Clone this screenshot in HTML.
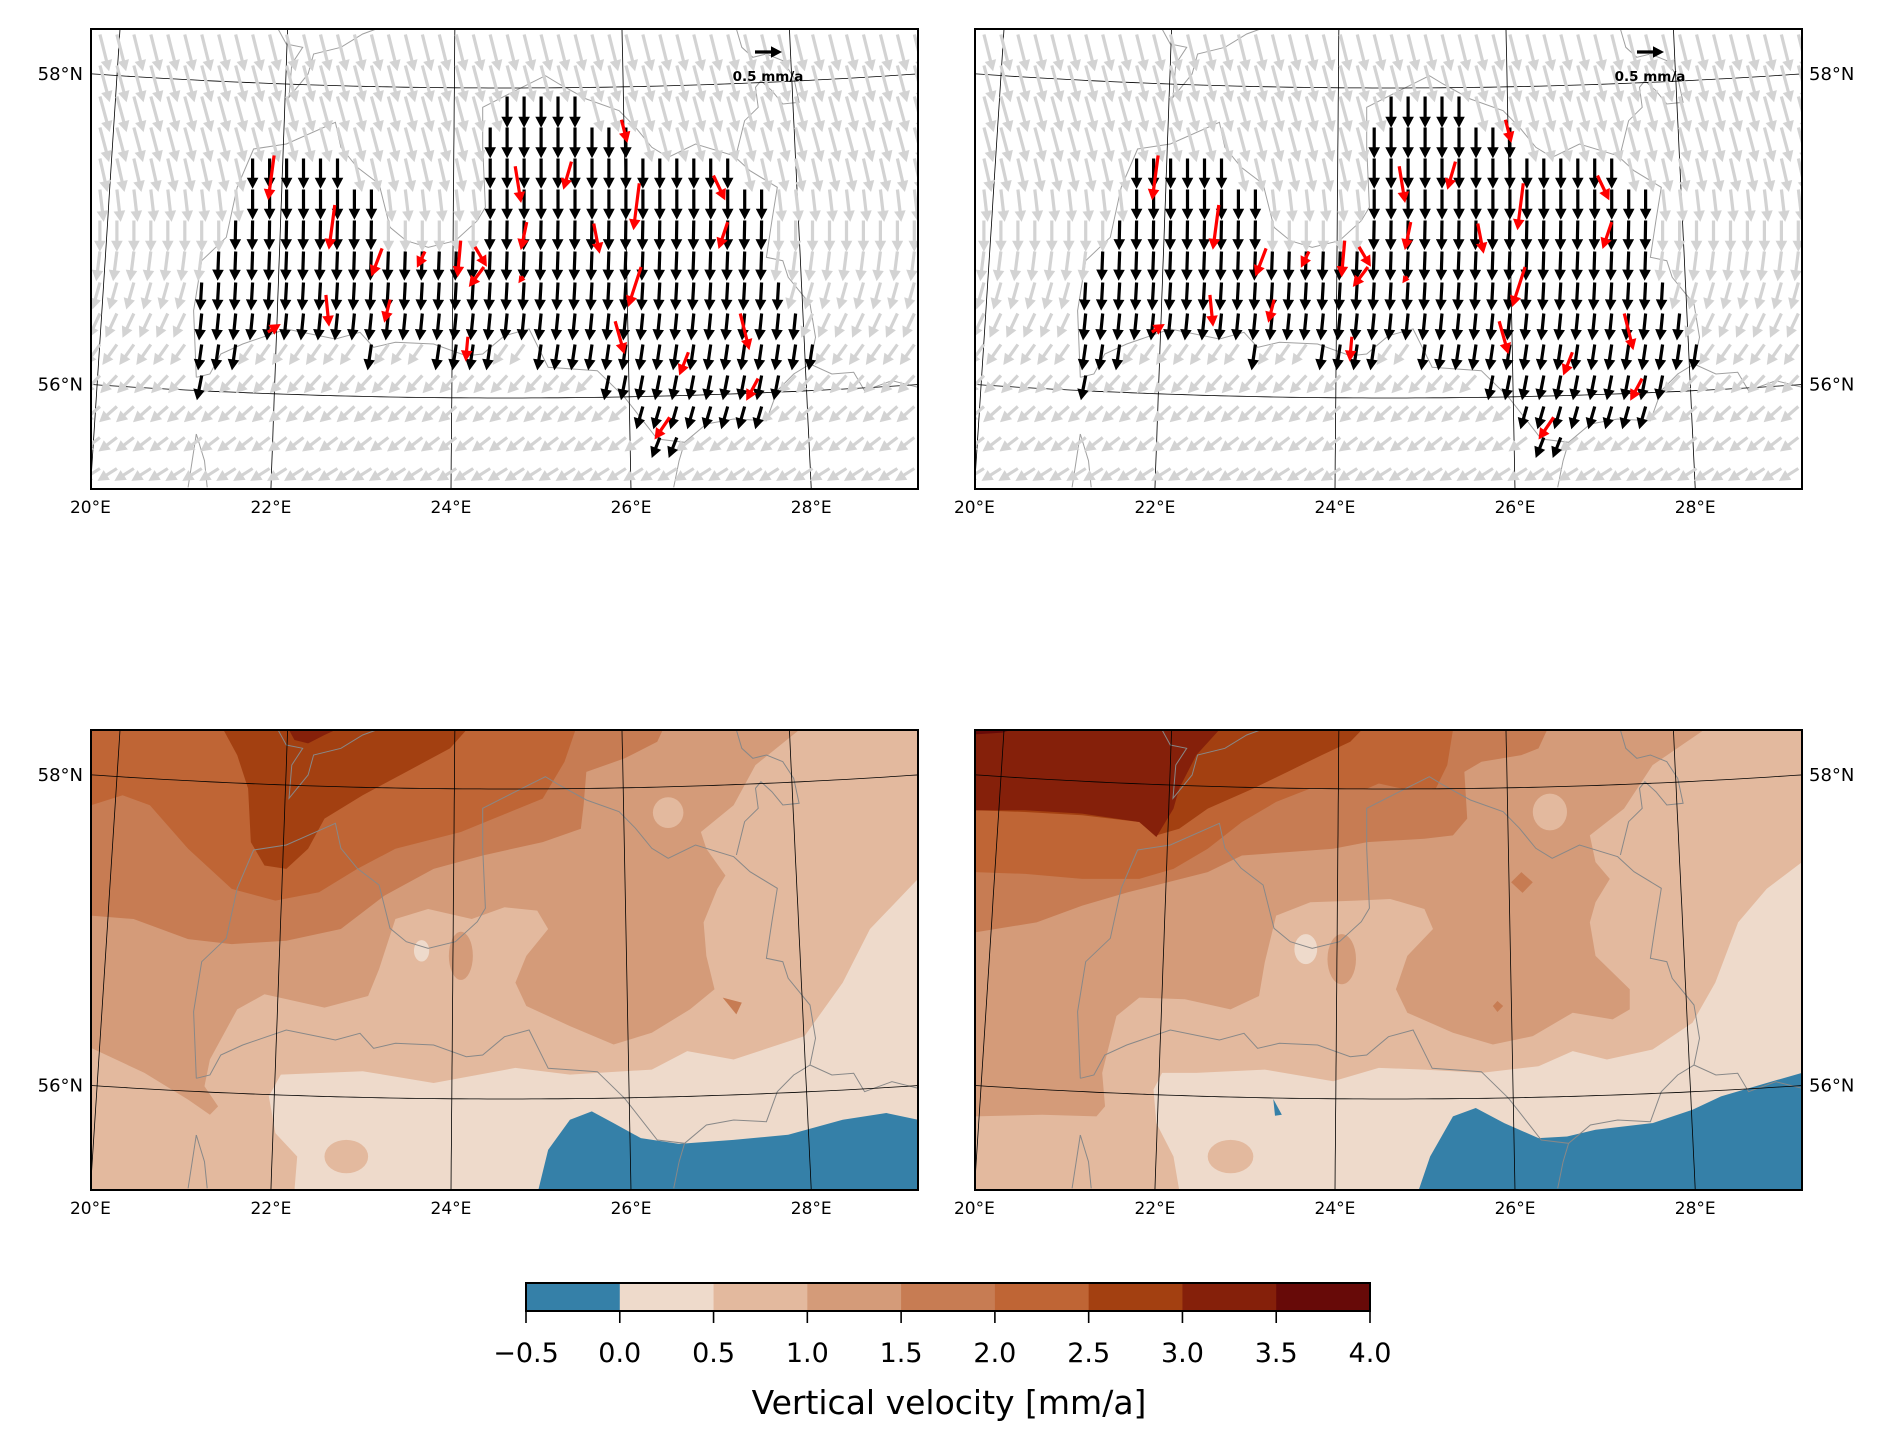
<!DOCTYPE html>
<html><head><meta charset="utf-8">
<style>
html,body{margin:0;padding:0;background:#fff;}
svg text{font-family:"DejaVu Sans","Liberation Sans",sans-serif;}
</style></head>
<body>
<svg id="fig" width="1890" height="1446" viewBox="0 0 1890 1446" xmlns="http://www.w3.org/2000/svg">
<rect width="1890" height="1446" fill="#fff"/>
<defs>
<clipPath id="pclip"><rect x="0" y="0" width="827" height="460"/></clipPath>
</defs>

<g id="bl" transform="translate(91,730)">
<svg x="0" y="0" width="827" height="460" viewBox="22 25 1516 1375" preserveAspectRatio="none">
<rect x="0" y="0" width="1600" height="1500" fill="#eedacb"/>
<path fill="#e3b99e" d="M22,25 L1538,25 L1538,470 L1450,620 L1400,780 L1330,940 L1200,1010 L1115,985 L1050,1040 L900,1055 L800,1035 L650,1080 L520,1045 L370,1055 L348,1120 L360,1230 L400,1300 L395,1400 L22,1400 Z"/>
<ellipse cx="490" cy="1300" rx="40" ry="50" fill="#e3b99e"/>
<path fill="#3580a8" d="M842,1400 L860,1280 L900,1190 L940,1165 L980,1200 L1030,1245 L1100,1262 L1200,1250 L1300,1235 L1400,1190 L1480,1170 L1538,1190 L1538,1400 Z"/>
<path fill="#d49b79" d="M22,25 L1320,25 L1240,130 L1200,250 L1140,330 L1150,380 L1185,460 L1170,500 L1145,600 L1150,700 L1165,800 L1120,860 L1050,930 L980,965 L900,910 L820,850 L800,780 L820,700 L860,620 L840,565 L780,555 L720,590 L640,560 L580,590 L550,740 L530,820 L450,855 L340,815 L290,860 L240,1010 L230,1090 L255,1150 L240,1175 L200,1130 L120,1050 L22,975 Z"/>
<ellipse cx="1080" cy="272" rx="28" ry="46" fill="#e3b99e"/>
<ellipse cx="700" cy="700" rx="22" ry="72" fill="#d49b79"/>
<ellipse cx="628" cy="685" rx="14" ry="32" fill="#eedacb"/>
<path fill="#c77c53" d="M1180,825 L1215,840 L1205,875 Z"/>
<path fill="#c77c53" d="M22,580 L100,590 L200,650 L280,665 L380,655 L480,620 L560,520 L650,440 L740,400 L850,360 L920,320 L925,250 L930,150 L1000,110 L1060,60 L1070,25 L22,25 Z"/>
<path fill="#bf6535" d="M22,250 L80,220 L130,250 L200,380 L280,500 L360,535 L440,510 L510,440 L580,380 L700,330 L760,290 L850,230 L890,120 L910,25 L22,25 Z"/>
<path fill="#a34011" d="M265,25 L290,100 L310,200 L315,360 L340,430 L380,440 L420,380 L450,290 L520,220 L600,150 L680,80 L710,25 Z"/>
<path fill="#85200a" d="M385,25 L395,55 L420,65 L450,40 L470,25 Z"/>
</svg>
</g>

<g id="br" transform="translate(975,730)">
<svg x="0" y="0" width="827" height="460" viewBox="12 25 1450 1375" preserveAspectRatio="none">
<rect x="0" y="0" width="1600" height="1500" fill="#eedacb"/>
<path fill="#e3b99e" d="M12,25 L1462,25 L1462,420 L1400,500 L1350,600 L1310,780 L1270,900 L1200,980 L1120,1010 L1060,985 L1000,1030 L900,1050 L800,1040 L720,1035 L640,1075 L520,1040 L400,1050 L340,1050 L325,1100 L330,1200 L360,1300 L370,1400 L12,1400 Z"/>
<ellipse cx="460" cy="1300" rx="40" ry="50" fill="#e3b99e"/>
<path fill="#3580a8" d="M790,1400 L810,1300 L850,1180 L890,1155 L940,1200 L1000,1245 L1050,1240 L1100,1220 L1200,1200 L1270,1160 L1320,1120 L1400,1080 L1462,1050 L1462,1400 Z"/>
<path fill="#3580a8" d="M535,1128 L550,1175 L538,1178 Z"/>
<path fill="#d49b79" d="M12,25 L1290,25 L1200,130 L1150,260 L1090,340 L1100,420 L1125,470 L1100,540 L1090,600 L1100,700 L1160,800 L1160,860 L1130,890 L1060,870 L990,940 L920,965 L850,930 L770,870 L750,800 L770,700 L815,620 L800,560 L740,530 L680,535 L600,540 L540,580 L520,720 L510,820 L460,860 L380,830 L300,825 L260,880 L235,1050 L240,1150 L225,1180 L130,1175 L12,1180 Z"/>
<ellipse cx="1020" cy="270" rx="30" ry="55" fill="#e3b99e"/>
<ellipse cx="655" cy="710" rx="25" ry="75" fill="#d49b79"/>
<ellipse cx="592" cy="680" rx="20" ry="45" fill="#eedacb"/>
<path fill="#c77c53" d="M970,450 L990,480 L972,512 L952,480 Z"/>
<path fill="#c77c53" d="M928,835 L938,850 L928,868 L920,850 Z"/>
<path fill="#c77c53" d="M12,630 L120,600 L200,550 L280,510 L350,480 L420,450 L480,400 L560,390 L640,380 L700,360 L800,350 L850,340 L875,290 L870,150 L900,120 L970,100 L1000,80 L1015,25 L12,25 Z"/>
<path fill="#bf6535" d="M12,450 L100,455 L200,470 L300,470 L360,440 L420,380 L480,300 L540,240 L600,200 L700,200 L720,185 L760,200 L820,200 L840,130 L850,25 L12,25 Z"/>
<path fill="#a34011" d="M12,265 L100,270 L200,280 L300,300 L330,340 L370,320 L420,260 L500,200 L560,150 L620,100 L670,60 L690,25 L12,25 Z"/>
<path fill="#85200a" d="M12,25 L440,25 L400,100 L370,200 L360,260 L330,345 L300,300 L200,275 L100,265 L12,265 Z"/>
<path fill="#670a08" d="M12,25 L75,25 L60,33 L12,38 Z"/>
</svg>
</g>

<g id="layers"></g>

<g id="colorbar"></g>
</svg>

<script>
// ---- data ----
const cbLevels = [-0.5, 0.0, 0.5, 1.0, 1.5, 2.0, 2.5, 3.0, 3.5, 4.0];
const cbColors = ["#3580a8","#eedacb","#e3b99e","#d49b79","#c77c53","#bf6535","#a34011","#85200a","#670a08"];
const cbTickLabels = ["\u22120.5","0.0","0.5","1.0","1.5","2.0","2.5","3.0","3.5","4.0"];
const lonTicks = [20, 22, 24, 26, 28];
const lonTickLabels = ["20°E","22°E","24°E","26°E","28°E"];
const latTicks = [56, 58];
const latTickLabels = ["56°N","58°N"];

const gridLats = [58.30,58.10,57.90,57.70,57.50,57.30,57.10,56.90,56.70,56.50,56.30,56.10,55.90,55.70,55.50];
const grayVe = [0.17,0.18,0.18,0.17,0.14,0.07,0.00,-0.07,-0.14,-0.21,-0.27,-0.31,-0.33,-0.34,-0.36];
const grayVn = [-0.68,-0.68,-0.66,-0.64,-0.62,-0.60,-0.58,-0.55,-0.50,-0.45,-0.38,-0.33,-0.29,-0.26,-0.23];
const blackVe = [0.00,0.00,0.00,0.00,0.00,0.00,-0.01,-0.02,-0.03,-0.05,-0.07,-0.09,-0.12,-0.15,-0.18];
const blackVn = [-0.58,-0.58,-0.58,-0.57,-0.56,-0.56,-0.55,-0.54,-0.52,-0.50,-0.48,-0.46,-0.42,-0.38,-0.34];
const redLon = [22.05,22.73,23.26,23.74,24.14,24.30,24.40,24.84,24.75,25.38,25.94,24.88,25.63,26.14,26.97,27.13,26.16,22.63,23.35,21.98,24.22,25.87,27.27,26.69,27.47,26.48];
const redLat = [57.52,57.20,56.92,56.90,56.97,56.93,56.80,56.74,57.45,57.48,57.75,57.09,57.08,57.34,57.39,57.09,56.80,56.62,56.59,56.38,56.35,56.45,56.50,56.25,56.08,55.83];
const redVe = [-0.11,-0.11,-0.20,-0.15,-0.06,0.22,-0.28,-0.09,0.11,-0.15,0.11,-0.11,0.11,-0.11,0.22,-0.17,-0.24,0.06,-0.11,0.24,-0.04,0.17,0.17,-0.17,-0.22,-0.28];
const redVn = [-0.83,-0.83,-0.52,-0.30,-0.68,-0.37,-0.37,-0.13,-0.68,-0.52,-0.43,-0.52,-0.56,-0.87,-0.46,-0.50,-0.74,-0.59,-0.43,0.15,-0.46,-0.61,-0.68,-0.43,-0.41,-0.41];
const keyValue = 0.5;

const NS = "http://www.w3.org/2000/svg";
const PW = 827, PH = 460;
const PX_PER_MM = 54;
function mk(tag, attrs, parent){ const e=document.createElementNS(NS,tag); for(const k in attrs) e.setAttribute(k,attrs[k]); if(parent) parent.appendChild(e); return e; }
function proj(lon, lat){
  const n=0.8, R0=6200, k=155, cx=414, cy57=214;
  const r = R0 + k*(57-lat);
  const th = n*(lon-24.6)*Math.PI/180;
  return [cx + r*Math.sin(th), (cy57-R0) + r*Math.cos(th)];
}
function qx(lon){ return (lon-20)*89.3; }
function qy(lat){ return 52 + (58-lat)*155; }

const borderZ = [[215,1070],[210,870],[225,720],[270,650],[290,500],[320,385],[380,370],[470,305],[480,380],[510,440],[550,490],[570,620],[600,660],[640,680],[690,660],[730,600],[745,560],[740,380],[740,260],[800,210],[855,165],[880,190],[930,235],[990,270],[1020,320],[1050,380],[1080,410],[1130,370],[1200,405],[1230,450],[1280,500],[1270,600],[1260,710],[1290,720],[1300,770],[1340,850],[1350,950],[1340,1030],[1310,1060],[1280,1110],[1260,1200],[1200,1195],[1150,1210],[1110,1265],[1060,1255],[1000,1130],[950,1050],[860,1040],[825,925],[780,945],[740,1000],[710,1005],[650,970],[580,965],[540,980],[515,935],[470,955],[380,925],[300,970],[260,1000],[240,1060],[215,1070]];
const extraBordersZ = [
 [[365,25],[380,70],[410,80],[390,130],[385,230],[420,160],[430,100],[480,80],[520,40],[545,25]],
 [[1205,25],[1215,80],[1235,110],[1260,100],[1290,120],[1310,170],[1320,245],[1290,250],[1270,210],[1250,180],[1240,200],[1245,260],[1220,300],[1205,400]],
 [[1110,1265],[1100,1320],[1090,1400]],
 [[215,1240],[230,1320],[235,1400]],[[200,1400],[215,1240]],
 [[1340,1030],[1380,1060],[1420,1055],[1440,1110],[1490,1080],[1538,1100]]
];
function z2p(p){ return [(p[0]-22)/1.833, (p[1]-25)/3]; }
const borderP = borderZ.map(z2p);
function inside(x,y,poly){
  let c=false;
  for(let i=0,j=poly.length-1;i<poly.length;j=i++){
    const xi=poly[i][0],yi=poly[i][1],xj=poly[j][0],yj=poly[j][1];
    if(((yi>y)!==(yj>y)) && (x < (xj-xi)*(y-yi)/(yj-yi)+xi)) c=!c;
  }
  return c;
}
function arrow(parent, x, y, dx, dy, color, name){
  const L = Math.hypot(dx,dy); if(L<0.5) return;
  const ux=dx/L, uy=dy/L, vx=-uy, vy=ux;
  let hl=11, hw=5.8, sw=1.6;
  if(L<hl*1.2){ const s=L/(hl*1.2); hl*=s; hw*=Math.max(s,0.6); }
  const bx=x+ux*(L-hl), by=y+uy*(L-hl);
  const pts=[[x+vx*sw,y+vy*sw],[bx+vx*sw,by+vy*sw],[bx+vx*hw,by+vy*hw],[x+dx,y+dy],[bx-vx*hw,by-vy*hw],[bx-vx*sw,by-vy*sw],[x-vx*sw,y-vy*sw]];
  const p = mk("polygon",{points:pts.map(q=>q[0].toFixed(1)+","+q[1].toFixed(1)).join(" "),fill:color},parent);
  
  
}
function poly2d(pts){ return pts.map(q=>q[0].toFixed(1)+","+q[1].toFixed(1)).join(" "); }

const layers = document.getElementById("layers");

function drawGraticule(g){
  for(const lon of lonTicks){
    const pts=[]; for(let lat=55.0; lat<=58.8; lat+=0.1) pts.push(proj(lon,lat));
    const l=mk("polyline",{points:poly2d(pts),fill:"none",stroke:"#000","stroke-width":0.8},g);
    
    
  }
  for(const lat of latTicks){
    const pts=[]; for(let lon=19.0; lon<=30.5; lon+=0.1) pts.push(proj(lon,lat));
    const l=mk("polyline",{points:poly2d(pts),fill:"none",stroke:"#000","stroke-width":0.8},g);
    
    
  }
}
function drawBorders(g, color){
  const all=[borderZ].concat(extraBordersZ);
  for(const b of all){
    const l=mk("polyline",{points:poly2d(b.map(z2p)),fill:"none",stroke:color,"stroke-width":1},g);
    
    
  }
}
function lonAtBottom(lon){
  let lo=54, hi=59;
  for(let i=0;i<40;i++){ const m=(lo+hi)/2; if(proj(lon,m)[1]>PH) lo=m; else hi=m; }
  return proj(lon,lo)[0];
}
function latAtEdge(lat, xEdge){
  let lo=18, hi=31;
  for(let i=0;i<40;i++){ const m=(lo+hi)/2; if(proj(m,lat)[0]<xEdge) lo=m; else hi=m; }
  return proj(lo,lat)[1];
}
function drawLabels(ox, oy, side){
  const g = mk("g",{},layers);
  
  
  lonTicks.forEach((lon,i)=>{
    const x=lonAtBottom(lon);
    const t=mk("text",{x:ox+x,y:oy+PH+24,"font-size":17,"text-anchor":"middle",fill:"#000"},g);
    t.textContent=lonTickLabels[i];
    
    
  });
  latTicks.forEach((lat,i)=>{
    const y = side==="left" ? latAtEdge(lat,0) : latAtEdge(lat,PW);
    const t=mk("text",{x: side==="left"? ox-8 : ox+PW+7, y:oy+y+6,"font-size":18,"text-anchor": side==="left"?"end":"start",fill:"#000"},g);
    t.textContent=latTickLabels[i];
    
    
  });
}
function frame(ox, oy, name){
  const r=mk("rect",{x:ox,y:oy,width:PW,height:PH,fill:"none",stroke:"#000","stroke-width":2},layers);
  
  
}

function quiverPanel(ox, oy, name){
  const g = mk("g",{transform:`translate(${ox},${oy})`,"clip-path":"url(#pclip)"},layers);
  
  
  mk("rect",{x:0,y:0,width:PW,height:PH,fill:"#fff"},g);
  drawBorders(g,"#a0a0a0");
  drawGraticule(g);
  const gg=mk("g",{},g);
  
  
  const gb=mk("g",{},g);
  
  
  gridLats.forEach((lat,ri)=>{
    for(let lon=20.1; lon<=29.35; lon+=0.19){
      const x=qx(lon), y=qy(lat);
      if(inside(x,y,borderP)){
        arrow(gb,x,y,blackVe[ri]*PX_PER_MM,-blackVn[ri]*PX_PER_MM,"#000","black-vector");
      } else {
        arrow(gg,x,y,grayVe[ri]*PX_PER_MM,-grayVn[ri]*PX_PER_MM,"#d3d3d3","gray-vector");
      }
    }
  });
  const gr=mk("g",{},g);
  
  
  redLon.forEach((lon,i)=>{
    arrow(gr,qx(lon),qy(redLat[i]),redVe[i]*PX_PER_MM,-redVn[i]*PX_PER_MM,"#ff0000","gnss-vector");
  });
  const kg=mk("g",{},g);
  
  
  const kx = ox<500 ? 664 : 662;
  arrow(kg,kx,23,keyValue*PX_PER_MM,0,"#000","quiver-key-arrow");
  const kt=mk("text",{x:kx+13,y:52,"font-size":13.5,"font-weight":"bold","text-anchor":"middle",fill:"#000"},kg);
  kt.textContent="0.5 mm/a";
  
  
}

function contourOverlay(ox, oy, name){
  const g = mk("g",{transform:`translate(${ox},${oy})`,"clip-path":"url(#pclip)"},layers);
  
  
  drawBorders(g,"#888");
  drawGraticule(g);
}

quiverPanel(91,29,"vector-map-left");
frame(91,29,"axes-frame-top-left");
drawLabels(91,29,"left");
quiverPanel(975,29,"vector-map-right");
frame(975,29,"axes-frame-top-right");
drawLabels(975,29,"right");
contourOverlay(91,730,"contour-overlay-left");
frame(91,730,"axes-frame-bottom-left");
drawLabels(91,730,"left");
contourOverlay(975,730,"contour-overlay-right");
frame(975,730,"axes-frame-bottom-right");
drawLabels(975,730,"right");

const cb=document.getElementById("colorbar");
const cbX0=526, cbX1=1370, cbY=1283, cbH=28;
function cbx(v){ return cbX0 + (v-cbLevels[0])/(cbLevels[cbLevels.length-1]-cbLevels[0])*(cbX1-cbX0); }
cbColors.forEach((c,i)=>{
  const r=mk("rect",{x:cbx(cbLevels[i]),y:cbY,width:cbx(cbLevels[i+1])-cbx(cbLevels[i])+0.5,height:cbH,fill:c},cb);
  
  
});
const cbf=mk("rect",{x:cbX0,y:cbY,width:cbX1-cbX0,height:cbH,fill:"none",stroke:"#000","stroke-width":2},cb);


cbLevels.forEach((v,i)=>{
  const t=mk("line",{x1:cbx(v),x2:cbx(v),y1:cbY+cbH,y2:cbY+cbH+12,stroke:"#000","stroke-width":1.6},cb);
  
  
  const l=mk("text",{x:cbx(v),y:1362,"font-size":27,"text-anchor":"middle",fill:"#000"},cb);
  l.textContent=cbTickLabels[i];
  
  
});
const ct=mk("text",{x:949,y:1414,"font-size":33,"text-anchor":"middle",fill:"#000"},cb);
ct.textContent="Vertical velocity [mm/a]";


</script>
</body></html>
